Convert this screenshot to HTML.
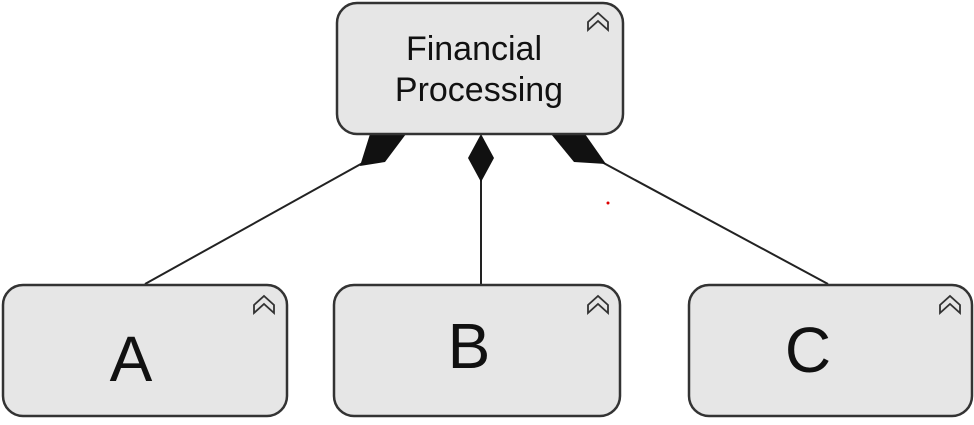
<!DOCTYPE html>
<html><head><meta charset="utf-8"><style>
body{margin:0;background:#fff;width:974px;height:420px;overflow:hidden}
</style></head><body>
<svg width="974" height="420" xmlns="http://www.w3.org/2000/svg" style="font-family:'Liberation Sans',sans-serif">
<g stroke="#222" stroke-width="2" fill="none">
<line x1="145" y1="284" x2="368" y2="160"/>
<line x1="481" y1="180" x2="481" y2="284"/>
<line x1="598" y1="160" x2="828" y2="284"/>
</g>
<g fill="#111">
<polygon points="370,134 406,134 385,162 360,166"/>
<polygon points="481,134 494,158 481,182 468,158"/>
<polygon points="551,134 585,134 606,164 574,162"/>
</g>
<g fill="#e6e6e6" stroke="#333" stroke-width="2.5">
<rect x="337" y="3" width="286" height="131" rx="20"/>
<rect x="3" y="285" width="284" height="131" rx="20"/>
<rect x="334" y="285" width="286" height="131" rx="20"/>
<rect x="689" y="285" width="283" height="131" rx="20"/>
</g>
<g fill="none" stroke="#333" stroke-width="1.8">
<path d="M588 22 L598 13 L608 22 L608 30 L598 21 L588 30 Z"/>
<path d="M254 305 L264 296 L274 305 L274 313 L264 304 L254 313 Z"/>
<path d="M588 305 L598 296 L608 305 L608 313 L598 304 L588 313 Z"/>
<path d="M940 305 L950 296 L960 305 L960 313 L950 304 L940 313 Z"/>
</g>
<g fill="#111" text-anchor="middle">
<text x="474" y="60" font-size="34">Financial</text>
<text x="479" y="101" font-size="34">Processing</text>
<text x="131" y="381" font-size="64">A</text>
<text x="469" y="368" font-size="64">B</text>
<text x="808" y="372" font-size="64">C</text>
</g>
<circle cx="608" cy="203" r="1.5" fill="#d00"/>
</svg>
</body></html>
